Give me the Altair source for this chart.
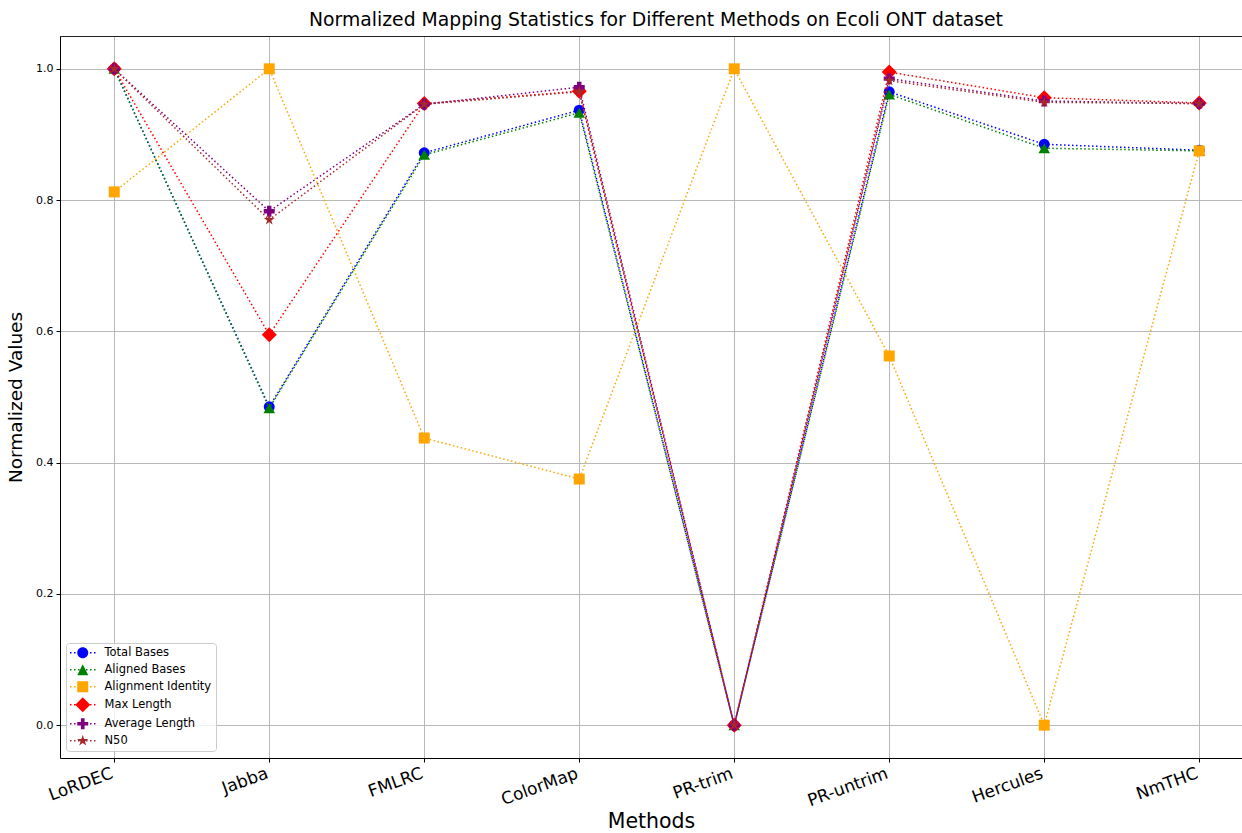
import math

import altair as alt
import pandas as pd

# ---- data -------------------------------------------------------------
methods = ["LoRDEC", "Jabba", "FMLRC", "ColorMap", "PR-trim", "PR-untrim", "Hercules", "NmTHC"]

metrics = ["Total Bases", "Aligned Bases", "Alignment Identity", "Max Length", "Average Length", "N50"]

total_bases = [1.0, 0.485, 0.872, 0.937, 0.0, 0.965, 0.885, 0.876]
aligned_bases = [1.0, 0.483, 0.869, 0.933, 0.0, 0.961, 0.879, 0.875]
alignment_identity = [0.8125, 1.0, 0.4375, 0.375, 1.0, 0.5625, 0.0, 0.875]
max_length = [1.0, 0.595, 0.947, 0.966, 0.0, 0.995, 0.956, 0.948]
average_length = [1.0, 0.783, 0.946, 0.972, 0.0, 0.985, 0.951, 0.947]
n50 = [1.0, 0.770, 0.946, 0.965, 0.0, 0.982, 0.949, 0.947]

series_values = [total_bases, aligned_bases, alignment_identity, max_length, average_length, n50]

colors = ["blue", "green", "orange", "red", "purple", "brown"]

# ---- marker geometry ------------------------------------------------------
def star_path(outer, inner):
    pts = []
    for k in range(10):
        r = outer if k % 2 == 0 else inner
        a = math.radians(-90 + 36 * k)
        pts.append(f"{r * math.cos(a):.3f},{r * math.sin(a):.3f}")
    return "M" + "L".join(pts) + "Z"


STAR = star_path(1.0, 0.382)

# (shape, size) for the plotted markers
point_shapes = ["circle", "triangle-up", "square", "diamond", "cross", STAR]
point_sizes = [121, 135, 121, 225, 121, 130]


def dotted_line(h=0.15, xs=(-2.4, -1.6, -0.8, 0.8, 1.6, 2.4)):
    return "".join(
        f"M{x - h:.2f},{-h:.2f}h{2 * h:.2f}v{2 * h:.2f}h{-2 * h:.2f}Z" for x in xs
    )


s = 1.1
legend_marker = [
    f"M{s},0A{s},{s},0,1,1,{-s},0A{s},{s},0,1,1,{s},0Z",
    f"M0,{-s}L{s},{s}L{-s},{s}Z",
    f"M{-s},{-s}H{s}V{s}H{-s}Z",
    "M0,-1.5L1.5,0L0,1.5L-1.5,0Z",
    "M-0.37,-1.1H0.37V-0.37H1.1V0.37H0.37V1.1H-0.37V0.37H-1.1V-0.37H-0.37Z",
    star_path(1.2, 0.46),
]
legend_paths = [dotted_line() + m for m in legend_marker]

# ---- long-form table ------------------------------------------------------
rows = []
for metric, vals in zip(metrics, series_values):
    for i, (m, v) in enumerate(zip(methods, vals)):
        rows.append({"idx": i, "method": m, "metric": metric, "value": v})
df = pd.DataFrame(rows)

FONT = "DejaVu Sans"
PLOT_W, PLOT_H = 1182, 722

label_expr = "[" + ",".join(f"'{m}'" for m in methods) + "][datum.value]"

x_enc = alt.X(
    "idx:Q",
    scale=alt.Scale(domain=[-0.35, 7.276], nice=False, zero=False),
    axis=alt.Axis(
        values=list(range(len(methods))),
        labelExpr=label_expr,
        labelAngle=-20,
        labelAlign="right",
        labelBaseline="top",
        labelFontSize=17,
        labelPadding=3,
        labelOffset=-5,
        title="Methods",
        titleFontSize=20.5,
        titlePadding=3,
    ),
)
y_enc = alt.Y(
    "value:Q",
    scale=alt.Scale(domain=[-0.05, 1.05], nice=False, zero=False),
    axis=alt.Axis(
        values=[0.0, 0.2, 0.4, 0.6, 0.8, 1.0],
        format=".1f",
        labelFontSize=11,
        labelPadding=3,
        title="Normalized Values",
        titleFontSize=18.5,
        titlePadding=10,
    ),
)

layers = []
for metric, color, shape, size in zip(metrics, colors, point_shapes, point_sizes):
    base = alt.Chart(df).transform_filter(alt.datum.metric == metric)
    line = base.mark_line(
        color=color, strokeDash=[1.5, 2.5], strokeWidth=1.5
    ).encode(x=x_enc, y=y_enc)
    pts = base.mark_point(
        shape=shape, filled=True, size=size, color=color, opacity=1
    ).encode(x=x_enc, y=y_enc)
    layers += [line, pts]

# top frame line of the axes box
top_spine = alt.Chart(df).mark_rule(color="#222222", strokeWidth=1).encode(
    x=alt.value(0), x2=alt.value(PLOT_W), y=alt.value(0.5)
)

legend = alt.Legend(
    title=None,
    orient="none",
    legendX=6,
    legendY=607,
    padding=4,
    symbolSize=100,
    symbolOffset=7,
    symbolStrokeWidth=0,
    labelOffset=16,
    labelFontSize=11.5,
    labelFont=FONT,
    labelColor="black",
    labelLimit=300,
    rowPadding=4,
    strokeColor="#cccccc",
    fillColor="rgba(255,255,255,0.8)",
    cornerRadius=3,
)

key = (
    alt.Chart(df)
    .transform_filter("false")
    .mark_point(filled=True, opacity=1)
    .encode(
        x=x_enc,
        y=y_enc,
        color=alt.Color("metric:N", scale=alt.Scale(domain=metrics, range=colors), legend=legend),
        shape=alt.Shape("metric:N", scale=alt.Scale(domain=metrics, range=legend_paths), legend=legend),
    )
)

chart = (
    alt.layer(*layers, top_spine, key)
    .properties(
        width=PLOT_W,
        height=PLOT_H,
        padding={"left": 60, "top": 36, "right": 0, "bottom": 75},
        autosize="none",
        title=alt.TitleParams(
            "Normalized Mapping Statistics for Different Methods on Ecoli ONT dataset",
            fontSize=18.8,
            font=FONT,
            fontWeight="normal",
            color="black",
            anchor="middle",
            offset=6,
            dx=5,
        ),
    )
    .configure_view(stroke="transparent")
    .configure_axis(
        grid=True,
        gridColor="#b0b0b0",
        gridWidth=0.9,
        domainColor="black",
        domainWidth=1,
        tickColor="black",
        tickSize=4,
        labelColor="black",
        labelFont=FONT,
        titleFont=FONT,
        titleFontWeight="normal",
        titleColor="black",
    )
)

chart.save("out.html", embed_options={"renderer": "svg", "actions": False})
